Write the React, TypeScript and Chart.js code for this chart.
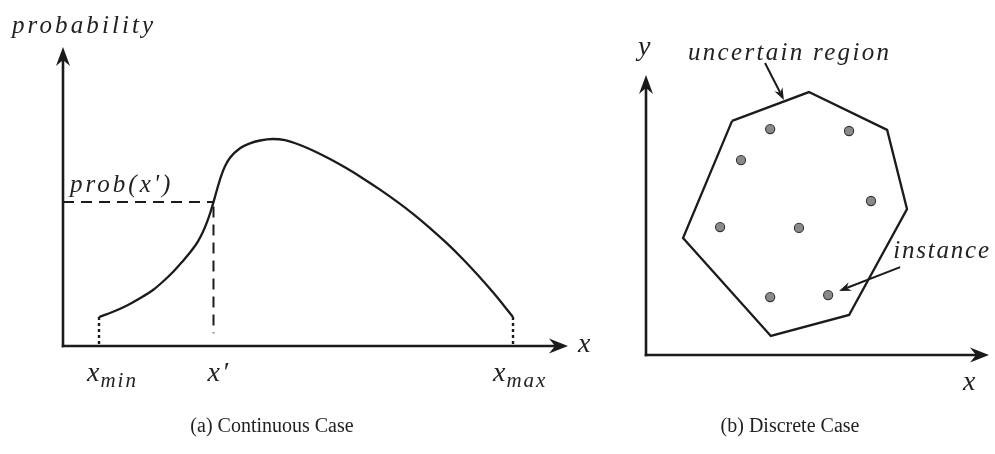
import React, { useEffect, useRef } from "react";
import { Chart, registerables } from "chart.js";

Chart.register(...registerables);

// ---- (a) Continuous case: probability density over [x_min, x_max] ----
const curveX = [
  7.13, 9.8, 12.48, 15.15, 17.82, 19.7, 21.58, 23.56, 25.54, 26.73, 27.72, 28.51, 29.21, 29.8, 30.5, 31.29, 32.08,
  33.07, 35.05, 37.03, 39.01, 41.58, 43.96, 46.93, 49.9, 52.87, 56.24, 59.41, 62.77, 66.14, 69.31, 72.67, 76.04,
  79.21, 82.18, 85.15, 89.11,
];
const curveY = [
  9.7, 11.37, 13.38, 15.89, 18.73, 21.4, 24.41, 28.09, 32.11, 35.02, 38.19, 41.4, 44.82, 48.13, 52.34, 56.76, 60.1,
  62.94, 66.12, 67.79, 68.73, 69.23, 68.83, 67.22, 65.05, 62.51, 59.33, 56.05, 52.31, 48.29, 44.21, 39.46, 34.31,
  29.03, 23.68, 17.96, 9.7,
];
const xPrimeIndex = 13; // x' sits on the rising flank of the curve
const xMinValue = curveX[0];
const xMaxValue = curveX[curveX.length - 1];
const xPrimeValue = curveX[xPrimeIndex];
const probAtXPrime = curveY[xPrimeIndex];

// ---- (b) Discrete case: uncertain region polygon and its instances ----
const regionX = [25.1, 47.5, 70.3, 76.1, 59.2, 36.4, 10.8];
const regionY = [83.6, 93.9, 80.4, 52.1, 14.3, 6.8, 41.8];
const instanceX = [36.2, 59.2, 27.7, 65.6, 21.6, 44.6, 36.2, 53.1];
const instanceY = [80.7, 80.0, 69.6, 55.0, 45.7, 45.4, 20.7, 21.4];

const captions = ["(a) Continuous Case", "(b) Discrete Case"];

const INK = "#1b1b1b";
const LABEL_FONT = '"Liberation Serif", "Times New Roman", serif';

function stealthHead(ctx: CanvasRenderingContext2D, tx: number, ty: number, angle: number, len: number, half: number, notch: number) {
  ctx.save();
  ctx.translate(tx, ty);
  ctx.rotate(angle);
  ctx.beginPath();
  ctx.moveTo(0, 0);
  ctx.lineTo(-len, -half);
  ctx.lineTo(-notch, 0);
  ctx.lineTo(-len, half);
  ctx.closePath();
  ctx.fillStyle = INK;
  ctx.fill();
  ctx.restore();
}

function arrowLine(ctx: CanvasRenderingContext2D, x0: number, y0: number, x1: number, y1: number, width: number, len: number, half: number, notch: number) {
  const a = Math.atan2(y1 - y0, x1 - x0);
  const ex = x1 - Math.cos(a) * notch;
  const ey = y1 - Math.sin(a) * notch;
  ctx.save();
  ctx.strokeStyle = INK;
  ctx.lineWidth = width;
  ctx.lineCap = "butt";
  ctx.beginPath();
  ctx.moveTo(x0, y0);
  ctx.lineTo(ex, ey);
  ctx.stroke();
  ctx.restore();
  stealthHead(ctx, x1, y1, a, len, half, notch);
}

function italic(ctx: CanvasRenderingContext2D, text: string, x: number, y: number, size: number, spacing: number): number {
  ctx.save();
  ctx.font = `italic ${size}px ${LABEL_FONT}`;
  (ctx as any).letterSpacing = `${spacing}px`;
  ctx.textAlign = "left";
  ctx.textBaseline = "alphabetic";
  ctx.fillStyle = "#222";
  ctx.fillText(text, x, y);
  const w = ctx.measureText(text).width;
  ctx.restore();
  return w;
}

function subscripted(ctx: CanvasRenderingContext2D, main: string, sub: string, x: number, y: number) {
  const w = italic(ctx, main, x, y, 28, 0);
  italic(ctx, sub, x + w + 1, y + 6, 21, 2);
}

function drawAxes(ctx: CanvasRenderingContext2D, ox: number, oy: number, xEnd: number, yEnd: number) {
  const w = 2.6;
  arrowLine(ctx, ox - w / 2, oy, xEnd, oy, w, 19, 7.5, 13);
  arrowLine(ctx, ox, oy + w / 2, ox, yEnd, w, 19, 7, 13);
}

const continuousDecor = {
  id: "continuousDecor",
  afterDatasetsDraw(chart: any) {
    const { ctx } = chart;
    const sx = chart.scales.x;
    const sy = chart.scales.y;
    const ox = sx.getPixelForValue(0);
    const oy = sy.getPixelForValue(0);
    const xEnd = sx.getPixelForValue(100);
    const yEnd = sy.getPixelForValue(100);

    drawAxes(ctx, ox, oy, xEnd, yEnd);

    italic(ctx, "probability", ox - 51, yEnd - 14, 25, 3.1);
    italic(ctx, "prob(x')", ox + 7, sy.getPixelForValue(probAtXPrime) - 10, 25, 3);
    italic(ctx, "x", xEnd + 10, oy + 6, 28, 0);

    subscripted(ctx, "x", "min", sx.getPixelForValue(xMinValue) - 12, oy + 35);
    italic(ctx, "x\u2032", sx.getPixelForValue(xPrimeValue) - 6, oy + 35, 28, 2);
    subscripted(ctx, "x", "max", sx.getPixelForValue(xMaxValue) - 20, oy + 35);
  },
};

// annotation arrows of the discrete panel, in data units
const regionArrowFrom = { x: 34.7, y: 104.3 };
const regionArrowTo = { x: 40.2, y: 91.1 };
const instanceArrowFrom = { x: 74.1, y: 31.4 };
const instanceArrowTo = { x: 56.3, y: 22.9 };

const discreteDecor = {
  id: "discreteDecor",
  afterDatasetsDraw(chart: any) {
    const { ctx } = chart;
    const sx = chart.scales.x;
    const sy = chart.scales.y;
    const ox = sx.getPixelForValue(0);
    const oy = sy.getPixelForValue(0);
    const xEnd = sx.getPixelForValue(100);
    const yEnd = sy.getPixelForValue(100);

    drawAxes(ctx, ox, oy, xEnd, yEnd);

    italic(ctx, "y", ox - 8, yEnd - 20, 28, 0);
    italic(ctx, "x", xEnd - 26, oy + 35, 28, 0);

    const rfx = sx.getPixelForValue(regionArrowFrom.x);
    const rfy = sy.getPixelForValue(regionArrowFrom.y);
    arrowLine(ctx, rfx, rfy, sx.getPixelForValue(regionArrowTo.x), sy.getPixelForValue(regionArrowTo.y), 2, 12, 4.5, 8);
    italic(ctx, "uncertain region", rfx - 77, rfy - 3, 25, 2.3);

    const ifx = sx.getPixelForValue(instanceArrowFrom.x);
    const ify = sy.getPixelForValue(instanceArrowFrom.y);
    arrowLine(ctx, ifx, ify, sx.getPixelForValue(instanceArrowTo.x), sy.getPixelForValue(instanceArrowTo.y), 2, 12, 4.5, 8);
    italic(ctx, "instance", ifx - 7, ify - 9, 25, 1.8);
  },
};

const hiddenScales = {
  x: { type: "linear" as const, min: 0, max: 100, display: false },
  y: { type: "linear" as const, min: 0, max: 100, display: false },
};

function seg(x0: number, y0: number, x1: number, y1: number) {
  return [{ x: x0, y: y0 }, { x: x1, y: y1 }];
}

function ContinuousPanel() {
  const ref = useRef<HTMLCanvasElement>(null);
  useEffect(() => {
    const chart = new Chart(ref.current!, {
      type: "scatter",
      data: {
        datasets: [
          {
            data: curveX.map((x, i) => ({ x, y: curveY[i] })),
            showLine: true,
            borderColor: INK,
            borderWidth: 2.3,
            pointRadius: 0,
            cubicInterpolationMode: "monotone",
            clip: false,
          } as any,
          {
            data: seg(0, probAtXPrime, xPrimeValue, probAtXPrime),
            showLine: true,
            borderColor: INK,
            borderWidth: 2,
            borderDash: [11, 7],
            pointRadius: 0,
            clip: false,
          },
          {
            data: seg(xPrimeValue, probAtXPrime - 1.5, xPrimeValue, 4.3),
            showLine: true,
            borderColor: INK,
            borderWidth: 2,
            borderDash: [11, 7],
            pointRadius: 0,
            clip: false,
          },
          {
            data: seg(xMinValue, curveY[0], xMinValue, 0),
            showLine: true,
            borderColor: INK,
            borderWidth: 2.4,
            borderDash: [3, 3],
            pointRadius: 0,
            clip: false,
          },
          {
            data: seg(xMaxValue, curveY[curveY.length - 1], xMaxValue, 0),
            showLine: true,
            borderColor: INK,
            borderWidth: 2.4,
            borderDash: [3, 3],
            pointRadius: 0,
            clip: false,
          },
        ],
      },
      options: {
        responsive: false,
        animation: false,
        events: [],
        layout: { padding: { left: 63, right: 42, top: 47, bottom: 108 } },
        scales: hiddenScales,
        plugins: { legend: { display: false }, tooltip: { enabled: false } },
      },
      plugins: [continuousDecor],
    });
    return () => chart.destroy();
  }, []);
  return <canvas ref={ref} width={610} height={454} style={{ position: "absolute", left: 0, top: 0 }} />;
}

function DiscretePanel() {
  const ref = useRef<HTMLCanvasElement>(null);
  useEffect(() => {
    const polygon = regionX.map((x, i) => ({ x, y: regionY[i] }));
    polygon.push({ ...polygon[0] });
    const chart = new Chart(ref.current!, {
      type: "scatter",
      data: {
        datasets: [
          {
            data: polygon,
            showLine: true,
            borderColor: INK,
            borderWidth: 2.3,
            pointRadius: 0,
            clip: false,
          },
          {
            data: instanceX.map((x, i) => ({ x, y: instanceY[i] })),
            pointRadius: 4.6,
            pointBackgroundColor: "#8a8a8a",
            pointBorderColor: "#333",
            pointBorderWidth: 1.1,
            clip: false,
          },
        ],
      },
      options: {
        responsive: false,
        animation: false,
        events: [],
        layout: { padding: { left: 36, right: 6, top: 75, bottom: 99 } },
        scales: hiddenScales,
        plugins: { legend: { display: false }, tooltip: { enabled: false } },
      },
      plugins: [discreteDecor],
    });
    return () => chart.destroy();
  }, []);
  return <canvas ref={ref} width={385} height={454} style={{ position: "absolute", left: 610, top: 0 }} />;
}

const captionStyle: React.CSSProperties = {
  position: "absolute",
  top: 412,
  fontFamily: LABEL_FONT,
  fontSize: 20,
  color: "#222",
  whiteSpace: "nowrap",
  transform: "translateX(-50%)",
  lineHeight: "26px",
};

export default function App() {
  return (
    <div style={{ position: "absolute", left: 0, top: 0, width: 995, height: 454, background: "#fff", overflow: "hidden" }}>
      <ContinuousPanel />
      <DiscretePanel />
      <div style={{ ...captionStyle, left: 272 }}>{captions[0]}</div>
      <div style={{ ...captionStyle, left: 790 }}>{captions[1]}</div>
    </div>
  );
}
